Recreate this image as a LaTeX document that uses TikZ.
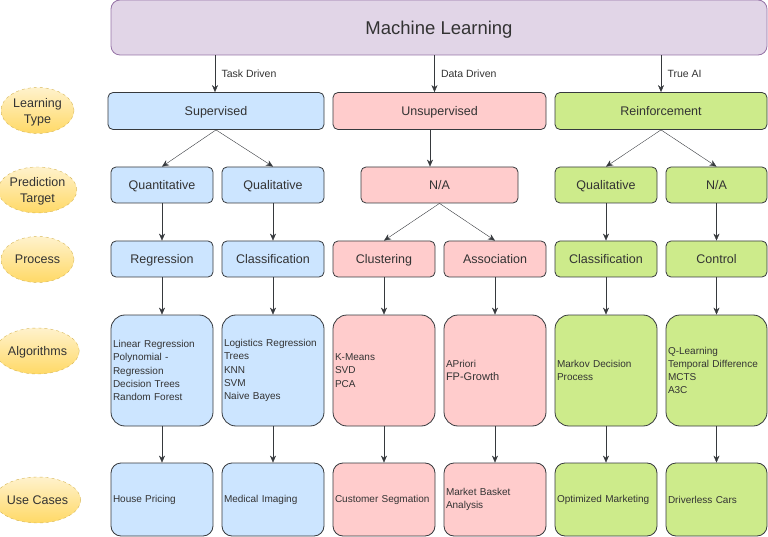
\documentclass[tikz,border=0pt]{standalone}
\usepackage{fontspec}
\setmainfont{Liberation Sans}
\usetikzlibrary{shapes.geometric,arrows.meta}

\definecolor{mlfill}{HTML}{E1D5E7}
\definecolor{mlline}{HTML}{9673A6}
\definecolor{supfill}{HTML}{CCE5FF}
\definecolor{unsfill}{HTML}{FFCCCC}
\definecolor{rlfill}{HTML}{CDEB8B}
\definecolor{boxline}{HTML}{36393D}
\definecolor{tagtop}{HTML}{FFF2CC}
\definecolor{tagbot}{HTML}{FFD966}
\definecolor{tagline}{HTML}{D6B656}
\definecolor{ink}{HTML}{333333}

\begin{document}
\begin{tikzpicture}[x=1pt, y=-1pt, >={Stealth[length=7pt,width=6pt]},
  every node/.style={text=ink},
  mlbox/.style={draw=mlline, fill=mlfill, rounded corners=9pt, line width=0.8pt,
    minimum width=656pt, minimum height=55pt, text depth=0pt,
    font=\fontsize{18.5}{22}\selectfont},
  kind/.style={draw=boxline, rounded corners=5pt, line width=0.8pt, text depth=0pt,
    minimum height=37pt, font=\fontsize{12.5}{15}\selectfont},
  small/.style={kind, minimum width=102pt, minimum height=36pt},
  algo/.style={draw=boxline, rounded corners=14pt, line width=0.8pt, inner xsep=2pt,
    text width=98pt, align=left, minimum height=111pt, font=\fontsize{10}{13.2}\selectfont},
  usecase/.style={algo, rounded corners=10pt, minimum height=73pt},
  tag/.style={ellipse, draw=tagline, dashed, top color=tagtop, bottom color=tagbot,
    minimum width=73pt, minimum height=46pt, inner sep=0pt, align=center,
    text depth=0pt, font=\fontsize{12.5}{16}\selectfont},
  lbl/.style={font=\fontsize{10.5}{12}\selectfont, right, xshift=3pt}]
  \useasboundingbox (0,0) rectangle (768,537);

  % row labels
  \node[tag] (tagtype) at (37.5,110.5) {Learning\\Type};
  \node[tag] (tagtarget) at (37.5,190) {Prediction\\Target};
  \node[tag] (tagproc) at (37.5,259.5) {Process};
  \node[tag] (tagalgo) at (37.5,351) {Algorithms};
  \node[tag] (taguse) at (37.5,500) {Use Cases};

  \node[mlbox] (ml) at (439,27.5) {Machine Learning};

  % learning type
  \node[kind, fill=supfill, minimum width=216pt] (sup) at (216,111) {Supervised};
  \node[kind, fill=unsfill, minimum width=213pt] (uns) at (439.5,111) {Unsupervised};
  \node[kind, fill=rlfill, minimum width=212pt] (rl) at (661,111) {Reinforcement};

  % prediction target
  \node[small, fill=supfill] (quant) at (162,185) {Quantitative};
  \node[small, fill=supfill] (qual) at (273,185) {Qualitative};
  \node[small, fill=unsfill, minimum width=157pt] (una) at (439.5,185) {N/A};
  \node[small, fill=rlfill] (rlqual) at (606,185) {Qualitative};
  \node[small, fill=rlfill, minimum width=101pt] (rlna) at (716.5,185) {N/A};

  % process
  \node[small, fill=supfill] (reg) at (162,259) {Regression};
  \node[small, fill=supfill] (cls) at (273,259) {Classification};
  \node[small, fill=unsfill] (clu) at (384,259) {Clustering};
  \node[small, fill=unsfill] (asc) at (495,259) {Association};
  \node[small, fill=rlfill] (rlcls) at (606,259) {Classification};
  \node[small, fill=rlfill, minimum width=101pt] (ctl) at (716.5,259) {Control};

  % algorithms
  \node[algo, fill=supfill] (algreg) at (162,370.5)
    {Linear Regression\\Polynomial -\\Regression\\Decision Trees\\Random Forest};
  \node[algo, fill=supfill] (algcls) at (273,370.5)
    {Logistics Regression\\Trees\\KNN\\SVM\\Naive Bayes};
  \node[algo, fill=unsfill] (algclu) at (384,370.5) {K-Means\\SVD\\PCA};
  \node[algo, fill=unsfill] (algasc) at (495,370.5)
    {APriori\\{\fontsize{11}{13.2}\selectfont FP-Growth}};
  \node[algo, fill=rlfill] (algrlc) at (606,370.5) {Markov Decision\\Process};
  \node[algo, fill=rlfill, text width=97pt] (algctl) at (716.5,370.5)
    {Q-Learning\\Temporal Difference\\MCTS\\A3C};

  % use cases
  \node[usecase, fill=supfill] (usereg) at (162,499.5) {House Pricing};
  \node[usecase, fill=supfill] (usecls) at (273,499.5) {Medical Imaging};
  \node[usecase, fill=unsfill] (useclu) at (384,499.5) {Customer Segmation};
  \node[usecase, fill=unsfill] (useasc) at (495,499.5) {Market Basket\\Analysis};
  \node[usecase, fill=rlfill] (userlc) at (606,499.5) {Optimized Marketing};
  \node[usecase, fill=rlfill, text width=97pt] (usectl) at (716.5,499.5) {Driverless Cars};

  % connectors
  \draw[->, boxline] ([xshift=-1pt]sup.north |- ml.south) -- ([xshift=-1pt]sup.north)
    node[lbl, midway] {Task Driven};
  \draw[->, boxline] ([xshift=-5pt]uns.north |- ml.south) -- ([xshift=-5pt]uns.north)
    node[lbl, midway] {Data Driven};
  \draw[->, boxline] (rl.north |- ml.south) -- (rl.north)
    node[lbl, midway] {True AI};

  \draw[->, boxline] (sup.south) -- (quant.north);
  \draw[->, boxline] (sup.south) -- (qual.north);
  \draw[->, boxline] ([xshift=-9.5pt]uns.south) -- ([xshift=-9.5pt]una.north);
  \draw[->, boxline] (una.south) -- (clu.north);
  \draw[->, boxline] (una.south) -- (asc.north);
  \draw[->, boxline] (rl.south) -- (rlqual.north);
  \draw[->, boxline] (rl.south) -- (rlna.north);

  \foreach \a/\b in {quant/reg, qual/cls, rlqual/rlcls, rlna/ctl,
      reg/algreg, cls/algcls, clu/algclu, asc/algasc, rlcls/algrlc, ctl/algctl,
      algreg/usereg, algcls/usecls, algclu/useclu, algasc/useasc,
      algrlc/userlc, algctl/usectl}
    \draw[->, boxline] (\a.south) -- (\b.north);
\end{tikzpicture}
\end{document}
